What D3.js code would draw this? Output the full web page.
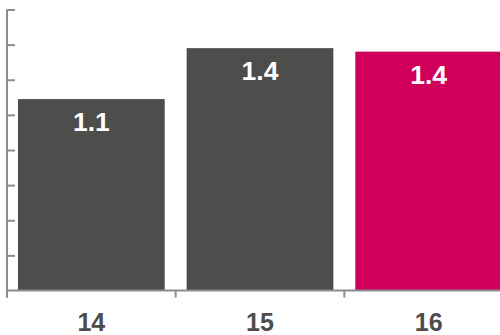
<!DOCTYPE html>
<html>
<head>
<meta charset="utf-8">
<script src="https://cdn.jsdelivr.net/npm/d3@7/dist/d3.min.js"></script>
<style>
  html, body { margin: 0; padding: 0; background: #fff; }
  svg { display: block; }
  text { font-family: "Liberation Sans", Arial, Helvetica, sans-serif; font-weight: bold; }
</style>
</head>
<body>
<script>
// Chart data
const categories = ["14", "15", "16"];
const values = [1.09, 1.38, 1.36];
const yTicks = [0, 0.2, 0.4, 0.6, 0.8, 1.0, 1.2, 1.4, 1.6];
const highlight = "16";

const W = 500, H = 335;
const svg = d3.select("body").append("svg").attr("width", W).attr("height", H);

const x = d3.scaleBand().domain(categories).range([7, 513]).paddingInner(0.13).paddingOuter(0.065);
const y = d3.scaleLinear().domain([0, 1.6]).range([290.5, 9.5]);

const axisColor = "#8c8c8c";
const dark = "#4d4d4b";
const magenta = "#d0005a";

// Bars
svg.append("g").selectAll("rect")
  .data(categories)
  .join("rect")
  .attr("x", d => x(d))
  .attr("width", x.bandwidth())
  .attr("y", (d, i) => y(values[i]))
  .attr("height", (d, i) => y(0) - y(values[i]))
  .attr("fill", d => d === highlight ? magenta : dark);

// Value labels inside bars
const fmt = d3.format(".1f");
svg.append("g").selectAll("text")
  .data(categories)
  .join("text")
  .attr("x", d => x(d) + x.bandwidth() / 2)
  .attr("y", (d, i) => y(values[i]) + 32)
  .attr("text-anchor", "middle")
  .attr("fill", "#fff")
  .attr("font-size", 26.5)
  .text((d, i) => fmt(values[i]));

// Y axis: ticks pointing inward, no labels
const yAxis = svg.append("g")
  .attr("transform", "translate(7,0)")
  .call(d3.axisRight(y).tickValues(yTicks).tickSize(8).tickFormat(""));
yAxis.select(".domain").attr("stroke", axisColor).attr("stroke-width", 2).attr("d", `M0,${y(1.6)}V${y(0) + 7}`);
yAxis.selectAll(".tick line").attr("stroke", axisColor).attr("stroke-width", 2);
yAxis.selectAll(".tick").filter(d => d === 0).remove();

// X axis: baseline with tick marks at band boundaries
const xg = svg.append("g");
xg.append("line")
  .attr("x1", x.range()[0]).attr("x2", x.range()[1])
  .attr("y1", y(0)).attr("y2", y(0))
  .attr("stroke", axisColor).attr("stroke-width", 2);
const bounds = d3.range(categories.length + 1).map(i => x.range()[0] + i * (x.range()[1] - x.range()[0]) / categories.length);
xg.selectAll("line.tk")
  .data(bounds)
  .join("line")
  .attr("class", "tk")
  .attr("x1", d => d).attr("x2", d => d)
  .attr("y1", y(0)).attr("y2", y(0) + 7)
  .attr("stroke", axisColor).attr("stroke-width", 2);

// Category labels
xg.selectAll("text")
  .data(categories)
  .join("text")
  .attr("x", d => x(d) + x.bandwidth() / 2)
  .attr("y", 331)
  .attr("text-anchor", "middle")
  .attr("fill", "#4d4d4d")
  .attr("font-size", 25)
  .text(d => d);
</script>
</body>
</html>
